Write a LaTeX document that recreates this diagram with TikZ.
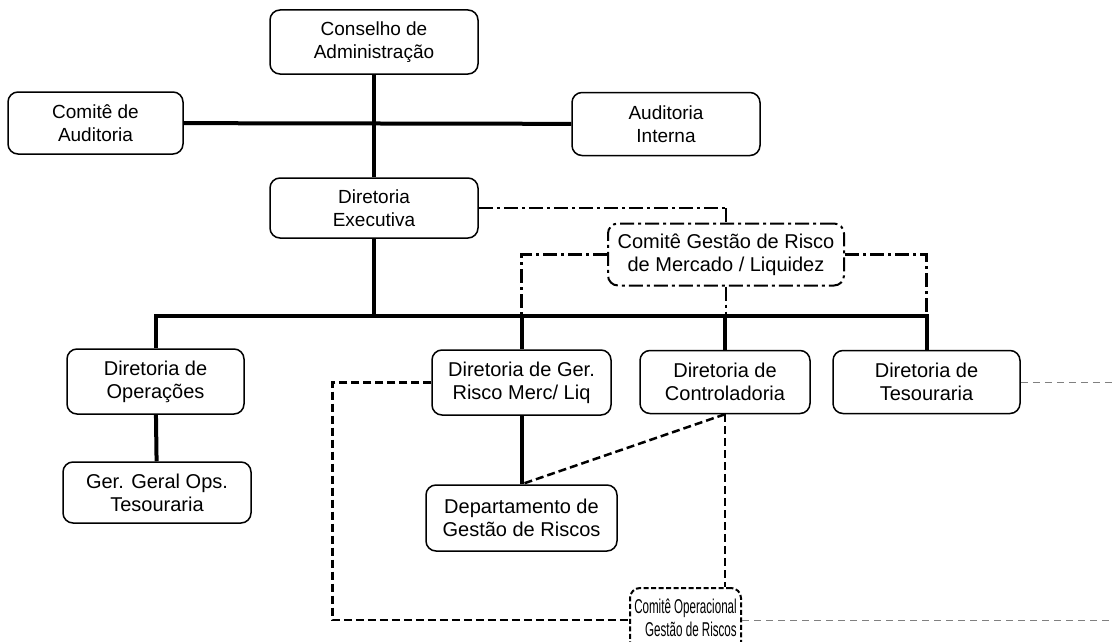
\documentclass[tikz,border=0pt]{standalone}
\usepackage{fontspec}
\setmainfont{Liberation Sans}
\usetikzlibrary{positioning}
\tikzset{
  box/.style={draw, line width=1.5pt, rounded corners=10pt, align=center, inner sep=0pt, font=\fontsize{20}{23}\selectfont},
  topbox/.style={box, font=\fontsize{19}{23}\selectfont},
  heavy/.style={line width=4pt},
  dashline/.style={line width=2.5pt, dash pattern=on 8pt off 4pt},
  dashdot/.style={line width=2.5pt, dash pattern=on 14pt off 4pt on 3pt off 4pt},
  thindashdot/.style={line width=1.2pt, dash pattern=on 14pt off 4pt on 3pt off 4pt},
  faint/.style={gray, line width=1pt, dash pattern=on 7pt off 5pt}
}
\begin{document}
\begin{tikzpicture}[x=1pt, y=-1pt]
\useasboundingbox (0,0) rectangle (1113,642);
\node[topbox, minimum width=208pt, minimum height=64pt](cons) at (374,42){Conselho de\\Administração};
\node[topbox, minimum width=175pt, minimum height=62pt](caud) at (95.5,123){Comitê de\\Auditoria};
\node[topbox, minimum width=188pt, minimum height=63pt](aint) at (666,124){Auditoria\\Interna};
\node[topbox, minimum width=208pt, minimum height=60pt](dexe) at (374,208){Diretoria\\Executiva};
\node[box, minimum width=236pt, minimum height=62pt, line width=2pt, dash pattern=on 14pt off 4pt on 3pt off 4pt](cgr) at (726,254.5){Comitê Gestão de Risco\\de Mercado / Liquidez};
\node[box, minimum width=177pt, minimum height=65pt](dops) at (155.5,381.5){Diretoria de\\Operações};
\node[box, minimum width=179pt, minimum height=65pt](drisk) at (521.5,382.5){Diretoria de Ger.\\Risco Merc/ Liq};
\node[box, minimum width=170pt, minimum height=63pt](dcont) at (725,382){Diretoria de\\Controladoria};
\node[box, minimum width=187pt, minimum height=63pt](dtes) at (926.5,382){Diretoria de\\Tesouraria};
\node[box, minimum width=188pt, minimum height=61pt](ger) at (157,492.5){Ger. Geral Ops.\\Tesouraria};
\node[box, minimum width=191pt, minimum height=66pt](dep) at (521.5,518){Departamento de\\Gestão de Riscos};
\node[box, minimum width=111pt, minimum height=64pt, line width=2pt, dash pattern=on 5pt off 2.5pt, align=right](cop) at (685.5,620){\scalebox{0.58}[1]{\begin{tabular}{@{}r@{}}Comitê Operacional\\Gestão de Riscos\end{tabular}}};
\coordinate (bus) at (374,316);
\coordinate (edge) at (1113,0);
\draw[heavy](cons)--(dexe);
\draw[heavy](caud)--(aint);
\draw[heavy](dexe)--(bus);
\draw[heavy](dops.north)|-(dtes.north |- bus)--(dtes.north);
\draw[heavy](drisk.north |- bus)--(drisk.north);
\draw[heavy](dcont.north |- bus)--(dcont.north);
\draw[heavy](dops)--(ger);
\draw[heavy](drisk)--(dep);
\draw[dashline](dcont.south)--(dep.north);
\draw[dashline](dcont.south)--(dcont.south |- cop.north);
\draw[dashline](drisk.west)--++(-99,0)|-(cop.west);
\draw[faint](dtes.east)--(dtes.east -| edge);
\draw[faint](cop.east)--(cop.east -| edge);
\draw[dashdot](dexe.east)--(dexe.east -| cgr.north);
\draw[thindashdot](dexe.east -| cgr.north)--(cgr.north);
\draw[dashdot](cgr.west)-|(drisk.north |- bus);
\draw[dashdot](cgr.east)-|(dtes.north |- bus);
\draw[dashdot](cgr.south)--(cgr.south |- bus);
\end{tikzpicture}
\end{document}
